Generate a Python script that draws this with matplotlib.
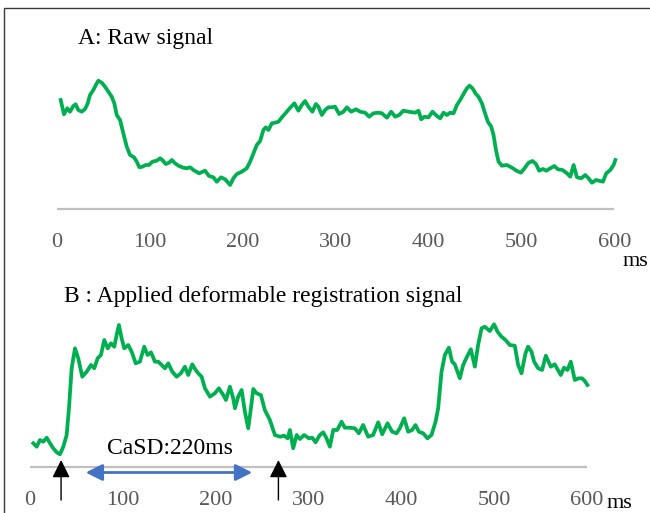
import matplotlib
matplotlib.use('Agg')
import matplotlib.pyplot as plt
from matplotlib.patches import Rectangle

plt.rcParams['font.family'] = ['Liberation Serif', 'DejaVu Serif']

# signal A: raw signal (time in ms, amplitude in arbitrary units)
raw_t = [4.0, 7.5, 11.1, 14.0, 17.6, 20.1, 22.9, 26.6, 30.2, 33.1,
         35.5, 39.1, 42.8, 44.5, 48.2, 51.7, 55.3, 58.9, 61.7, 64.3,
         67.9, 71.4, 75.1, 78.6, 82.9, 85.9, 88.7, 91.9, 95.5, 99.1,
         102.7, 107.4, 111.0, 113.4, 117.1, 120.6, 123.6, 127.1, 131.4, 136.1,
         139.7, 143.3, 146.8, 153.0, 159.4, 163.7, 168.4, 172.0, 176.7, 181.0,
         186.4, 189.9, 193.6, 199.0, 204.3, 207.9, 211.5, 215.1, 218.7, 222.2,
         224.8, 227.6, 231.3, 234.8, 238.4, 242.7, 247.4, 252.1, 255.6, 259.9,
         263.6, 267.1, 270.7, 275.0, 278.7, 281.5, 285.1, 288.7, 292.2, 295.9,
         299.4, 303.7, 308.4, 312.1, 316.7, 321.8, 326.4, 331.8, 336.1, 340.7,
         346.1, 349.8, 355.2, 359.8, 364.1, 368.4, 373.0, 378.4, 385.6, 389.2,
         392.1, 395.7, 400.0, 404.3, 409.0, 412.6, 416.1, 419.8, 423.3, 426.9,
         430.6, 434.1, 437.7, 441.3, 444.1, 447.4, 451.0, 453.8, 457.5, 460.3,
         463.9, 467.5, 470.0, 472.6, 475.4, 479.0, 484.4, 489.8, 495.2, 499.5,
         503.4, 507.7, 512.0, 515.7, 519.2, 523.2, 526.8, 531.1, 535.4, 539.4,
         544.3, 549.1, 552.6, 556.2, 559.8, 564.4, 568.7, 572.3, 575.9, 580.3,
         584.9, 587.8, 591.4, 595.7, 599.3, 601.1]
raw_v = [109, 94.7, 100.7, 97.3, 103, 104.7, 99, 97.3, 100, 105.7,
         114, 119, 125.7, 128.3, 126.3, 122.3, 117.3, 112.3, 105.7, 94,
         89, 75.7, 62.3, 54, 51.7, 47.3, 41.7, 42.3, 44, 44,
         47.3, 48.3, 50.7, 49, 45, 46.3, 49, 45.7, 43, 41.3,
         40.7, 41.7, 39, 35.7, 38.3, 33, 31.7, 27.3, 31.7, 29.7,
         24, 30.7, 35, 37.3, 40.7, 47.3, 55.7, 64, 68, 79,
         81.7, 79, 85.7, 86.3, 87.3, 92.3, 97.3, 102.3, 105.7, 98.3,
         104, 108, 102.3, 97.3, 105, 102.3, 94, 99, 101.7, 101.7,
         102.3, 95, 97.3, 101.7, 97.3, 99.7, 97.3, 96.3, 92.3, 95.7,
         96.3, 95.7, 91.3, 97.3, 92.3, 94, 98.3, 97.3, 96.3, 98.3,
         89.7, 92.3, 91.7, 97.3, 93, 90.7, 96.3, 94, 96.3, 95.7,
         104, 109, 115, 120.7, 123.3, 120.7, 115, 112.3, 105.7, 97.3,
         87.3, 82.3, 74, 59, 47.3, 43.3, 44, 41.3, 38, 36.3,
         40.7, 46.3, 48, 45, 38.3, 40, 38.3, 40.7, 43, 39.7,
         39, 35.7, 32.3, 44, 31.7, 30.7, 34, 30.7, 26.3, 29,
         28, 27.3, 35.7, 39, 44, 49]

# signal B: after deformable registration
reg_t = [4.1, 7.7, 11.3, 14.9, 18.5, 22.1, 25.6, 29.3, 32.8, 36.4,
         40.0, 42.5, 45.4, 49.0, 52.5, 56.8, 61.6, 66.2, 69.7, 73.4,
         76.9, 80.5, 84.2, 87.7, 91.3, 93.8, 96.3, 99.2, 102.0, 106.3,
         110.0, 114.3, 118.9, 123.5, 127.2, 130.8, 135.1, 138.6, 142.3, 145.8,
         149.4, 153.7, 158.4, 163.0, 167.3, 170.9, 175.2, 178.9, 181.7, 185.3,
         188.9, 194.3, 199.6, 203.9, 208.6, 211.5, 215.8, 219.3, 221.2, 224.7,
         228.4, 231.9, 235.5, 238.4, 240.9, 244.5, 249.1, 253.4, 258.8, 264.2,
         269.6, 274.2, 277.9, 280.4, 283.9, 287.6, 291.1, 295.7, 300.8, 304.4,
         308.0, 312.6, 316.2, 319.8, 323.4, 327.0, 331.3, 336.0, 339.5, 344.9,
         350.3, 354.6, 359.2, 364.6, 370.0, 375.4, 379.7, 385.5, 390.4, 395.2,
         398.7, 403.4, 407.7, 412.0, 415.6, 419.2, 423.8, 428.5, 432.8, 437.2,
         440.0, 443.6, 447.2, 451.5, 455.0, 457.9, 463.3, 466.9, 470.5, 475.2,
         479.5, 483.0, 486.7, 490.2, 495.6, 500.2, 503.9, 508.2, 512.5, 517.1,
         522.5, 526.1, 529.7, 534.0, 536.8, 540.5, 543.3, 547.6, 551.9, 555.9,
         561.3, 565.5, 572.0, 575.5, 579.2, 582.8, 587.1, 591.4, 594.9, 597.8,
         600.7]
reg_v = [23.7, 20.3, 27, 25.3, 29.3, 23.7, 18.7, 14.7, 12.7, 20.3,
         32, 58.7, 98.7, 118.7, 108.7, 90.3, 95.3, 102, 98.7, 108.7,
         112, 127, 118.7, 123.7, 120.3, 132, 142, 128.7, 118.7, 122,
         115.3, 103.7, 105.3, 120.3, 112, 114.7, 105.3, 105.3, 102, 98.7,
         103.7, 95.3, 90.3, 93.7, 100.3, 92, 102.7, 97, 93.7, 90.3,
         78.7, 70.3, 73.7, 78.7, 72, 67, 80.3, 68.7, 58.7, 70.3,
         77, 55.3, 38.7, 58.7, 78, 73.7, 72, 57, 47, 32,
         30.3, 31.3, 28.7, 37, 18.7, 32, 28, 32, 28.7, 29.3,
         24.7, 32, 34.7, 28.7, 20.3, 37, 37, 45.3, 39.3, 39.3,
         38.7, 33.7, 42, 30.3, 32, 44.7, 32.7, 43.7, 35.3, 33.7,
         38.7, 48.7, 35.3, 37, 42, 35.3, 33.7, 28.7, 32, 45.3,
         58.7, 95.3, 112, 119.3, 105.3, 102.7, 88.7, 102, 109.3, 117.7,
         100.3, 122, 138.7, 140.3, 136, 142.7, 135.3, 130.3, 127, 122,
         121.3, 102, 93.7, 113.7, 120.3, 115.3, 105.3, 98.7, 97, 111.3,
         100.3, 102.7, 92, 99.3, 97, 105.3, 87, 88.7, 88.7, 86,
         82]

ticks = [0, 100, 200, 300, 400, 500, 600]
casd_start, casd_end = 34, 268   # black arrows (ms)
casd_label = 'CaSD:220ms'

GREEN = '#00B050'
GRID = '#BFBFBF'
TICK_COLOR = '#595959'
BLUE = '#4472C4'

W, H = 650, 513
fig = plt.figure(figsize=(W / 100, H / 100), dpi=100)

# frame around the figure
fig.patches.append(Rectangle((4 / W, -0.1), 1.2, 1 - 8 / H + 0.1,
                             transform=fig.transFigure, fill=False,
                             edgecolor='#3a3a3a', lw=1))


def make_axes(left_px, right_px, zero_px, top_px, bottom_px):
    # axes whose 0 ms sits at zero_px and 1 ms = 0.9288 px
    scale = 0.9288
    ax = fig.add_axes([left_px / W, 1 - bottom_px / H,
                       (right_px - left_px) / W, (bottom_px - top_px) / H])
    ax.set_xlim((left_px - zero_px) / scale, (right_px - zero_px) / scale)
    ax.set_ylim(0, bottom_px - top_px)
    for s in ax.spines.values():
        s.set_visible(False)
    ax.set_yticks([])
    ax.set_xticks(ticks)
    ax.set_xticklabels([str(t) for t in ticks])
    ax.tick_params(axis='x', length=0, pad=17, labelsize=16, labelcolor=TICK_COLOR)
    ax.patch.set_alpha(0)
    ax.hlines(0, ticks[0], ticks[-1], color=GRID, lw=1.6, clip_on=False, zorder=1)
    return ax


# panel A
ax1 = make_axes(40, 630, 57, 60, 209)
ax1.plot(raw_t, raw_v, color=GREEN, lw=2.7, solid_joinstyle='round', zorder=3)
fig.text(78 / W, 1 - 44 / H, 'A: Raw signal', fontsize=17, va='baseline')
fig.text(623 / W, 1 - 266 / H, 'ms', fontsize=16, va='baseline')

# panel B
ax2 = make_axes(15, 630, 29.5, 315, 467)
ax2.plot(reg_t, reg_v, color=GREEN, lw=2.7, solid_joinstyle='round', zorder=3)
fig.text(64 / W, 1 - 302 / H, 'B : Applied deformable registration signal',
         fontsize=17, va='baseline')
fig.text(607 / W, 1 - 508 / H, 'ms', fontsize=16, va='baseline')

for x in (casd_start, casd_end):
    ax2.annotate('', xy=(x, 7), xytext=(x, -33), annotation_clip=False,
                 arrowprops=dict(arrowstyle='-|>,head_length=1.08,head_width=0.54',
                                 mutation_scale=10, color='black', lw=1,
                                 shrinkA=0, shrinkB=0))

ax2.annotate('', xy=(60.5, -5.5), xytext=(239.8, -5.5), annotation_clip=False,
             arrowprops=dict(arrowstyle='<|-|>,head_length=1.0,head_width=0.5',
                             mutation_scale=10, color=BLUE, lw=2,
                             shrinkA=0, shrinkB=0))
ax2.text(151, 13, casd_label, fontsize=17, ha='center', va='baseline')

fig.savefig('out.png', dpi=100)
